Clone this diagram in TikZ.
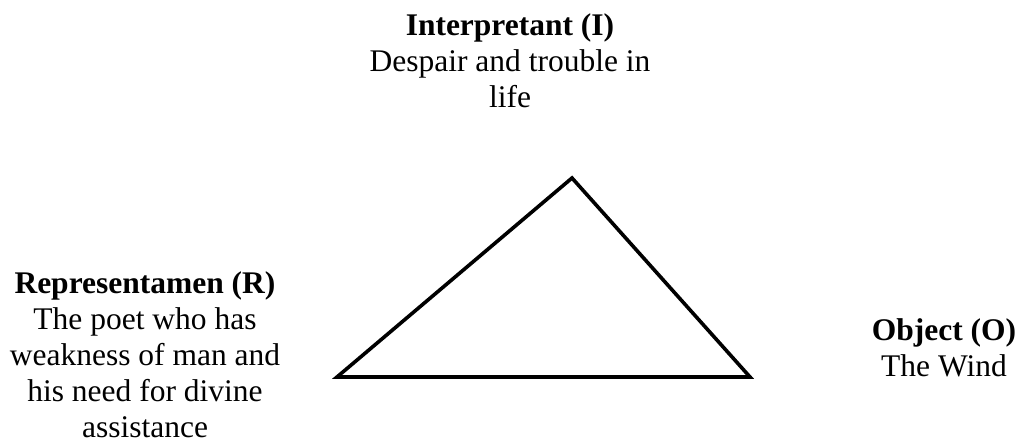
\documentclass[tikz,border=0pt]{standalone}
\usepackage{fontspec}
\setmainfont{Liberation Serif}
\begin{document}
\begin{tikzpicture}[x=1pt,y=-1pt,
  lbl/.style={align=center,inner sep=0pt,font=\fontsize{31.5}{36}\selectfont},
  tri/.style={draw=black,line width=3.6pt,line join=miter}]
\useasboundingbox (0,0) rectangle (1019,444);
\coordinate (I) at (572,178);
\coordinate (R) at (337,377);
\coordinate (O) at (750,377);
\draw[tri] (I) -- (R) -- (O) -- cycle;
\node[lbl] (interp) at (510,61) {\textbf{Interpretant (I)}\\Despair and trouble in\\life};
\node[lbl] (repr) at (145,355) {\textbf{Representamen (R)}\\The poet who has\\weakness of man and\\his need for divine\\assistance};
\node[lbl] (obj) at (944,348) {\textbf{Object (O)}\\The Wind};
\end{tikzpicture}
\end{document}
